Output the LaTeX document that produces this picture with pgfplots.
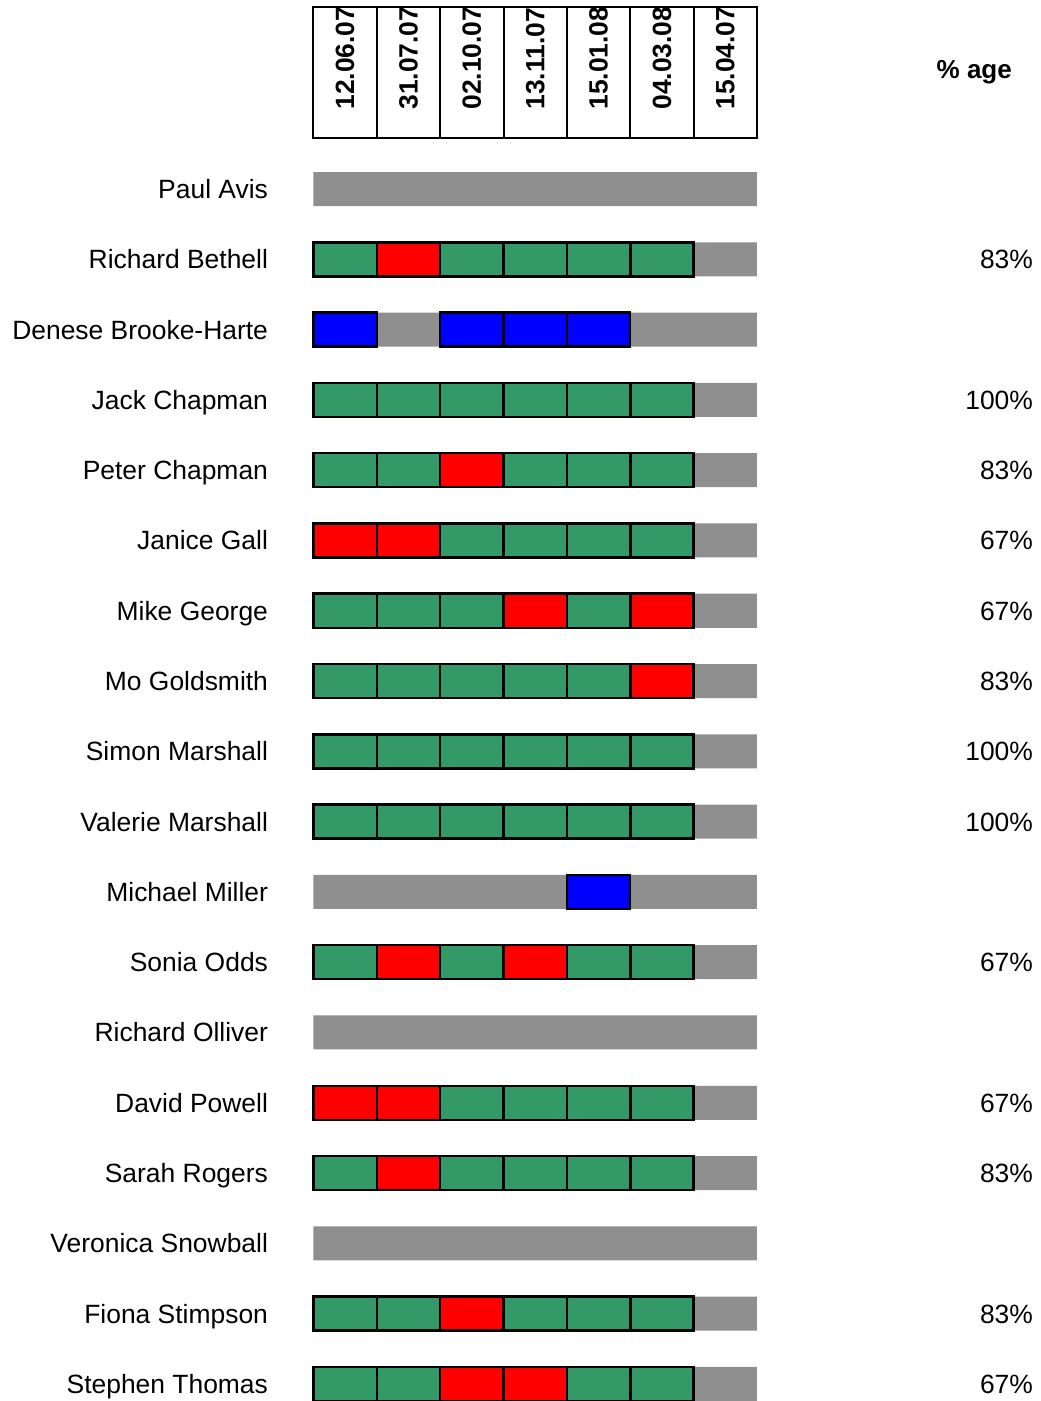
\documentclass[border=0pt]{standalone}
\usepackage{pgfplots}
\pgfplotsset{compat=1.18}
\usepackage{fontspec}
\setmainfont{Liberation Sans}
\definecolor{attgreen}{HTML}{339966}
\definecolor{attred}{HTML}{FF0000}
\definecolor{attblue}{HTML}{0000FF}
\definecolor{barGray}{HTML}{8F8F8F}
\pgfdeclareplotmark{cell}{%
  \pgfpathrectangle{\pgfqpoint{-15.82pt}{-8.5pt}}{\pgfqpoint{31.64pt}{17pt}}%
  \pgfusepathqfillstroke}
\begin{document}
\begin{tikzpicture}
\begin{axis}[
  hide axis, clip=false,
  x=31.643pt, y=35.1pt, y dir=reverse,
  xmin=-4.946, xmax=11.472, ymin=-2.689, ymax=17.243,
  every mark/.append style={line width=1.25pt},
]
% grey background bar for each member
\addplot[xbar, bar width=0.484, bar shift=0pt, fill=barGray, draw=none]
 coordinates {(7,0)(7,1)(7,2)(7,3)(7,4)(7,5)(7,6)(7,7)(7,8)(7,9)(7,10)(7,11)(7,12)(7,13)(7,14)(7,15)(7,16)(7,17)};
% attendance cells: x = column centre, y = row, class g/r/b
\addplot[scatter, only marks, scatter src=explicit symbolic,
  scatter/classes={
    g={mark=cell, fill=attgreen, draw=black, line width=1.25pt},
    r={mark=cell, fill=attred, draw=black, line width=1.25pt},
    b={mark=cell, fill=attblue, draw=black, line width=1.25pt}}]
 table[meta=c] {
x y c
0.5 1 g
1.5 1 r
2.5 1 g
3.5 1 g
4.5 1 g
5.5 1 g
0.5 2 b
2.5 2 b
3.5 2 b
4.5 2 b
0.5 3 g
1.5 3 g
2.5 3 g
3.5 3 g
4.5 3 g
5.5 3 g
0.5 4 g
1.5 4 g
2.5 4 r
3.5 4 g
4.5 4 g
5.5 4 g
0.5 5 r
1.5 5 r
2.5 5 g
3.5 5 g
4.5 5 g
5.5 5 g
0.5 6 g
1.5 6 g
2.5 6 g
3.5 6 r
4.5 6 g
5.5 6 r
0.5 7 g
1.5 7 g
2.5 7 g
3.5 7 g
4.5 7 g
5.5 7 r
0.5 8 g
1.5 8 g
2.5 8 g
3.5 8 g
4.5 8 g
5.5 8 g
0.5 9 g
1.5 9 g
2.5 9 g
3.5 9 g
4.5 9 g
5.5 9 g
4.5 10 b
0.5 11 g
1.5 11 r
2.5 11 g
3.5 11 r
4.5 11 g
5.5 11 g
0.5 13 r
1.5 13 r
2.5 13 g
3.5 13 g
4.5 13 g
5.5 13 g
0.5 14 g
1.5 14 r
2.5 14 g
3.5 14 g
4.5 14 g
5.5 14 g
0.5 16 g
1.5 16 g
2.5 16 r
3.5 16 g
4.5 16 g
5.5 16 g
0.5 17 g
1.5 17 g
2.5 17 r
3.5 17 r
4.5 17 g
5.5 17 g
};
% header box with dates
\draw[line width=1pt] (axis cs:0,-2.593) rectangle (axis cs:7,-0.7265);
\draw[line width=1pt] (axis cs:1,-2.593) -- (axis cs:1,-0.7265);
\draw[line width=1pt] (axis cs:2,-2.593) -- (axis cs:2,-0.7265);
\draw[line width=1pt] (axis cs:3,-2.593) -- (axis cs:3,-0.7265);
\draw[line width=1pt] (axis cs:4,-2.593) -- (axis cs:4,-0.7265);
\draw[line width=1pt] (axis cs:5,-2.593) -- (axis cs:5,-0.7265);
\draw[line width=1pt] (axis cs:6,-2.593) -- (axis cs:6,-0.7265);
\tikzset{datel/.style={rotate=90, anchor=west, inner sep=0pt, font=\fontsize{13.2}{15}\selectfont\bfseries}}
\node[datel] at (axis cs:0.5,-1.125) {12.06.07};
\node[datel] at (axis cs:1.5,-1.125) {31.07.07};
\node[datel] at (axis cs:2.5,-1.125) {02.10.07};
\node[datel] at (axis cs:3.5,-1.125) {13.11.07};
\node[datel] at (axis cs:4.5,-1.125) {15.01.08};
\node[datel] at (axis cs:5.5,-1.125) {04.03.08};
\node[datel] at (axis cs:6.5,-1.125) {15.04.07};
\node[font=\fontsize{13}{15}\selectfont\bfseries, inner sep=0pt] at (axis cs:10.429,-1.667) {\% age};
% names
\tikzset{namel/.style={anchor=base east, inner sep=0pt, yshift=-4.7pt, font=\fontsize{13.2}{15}\selectfont}}
\node[namel] at (axis cs:-0.711,0) {Paul Avis};
\node[namel] at (axis cs:-0.711,1) {Richard Bethell};
\node[namel] at (axis cs:-0.711,2) {Denese Brooke-Harte};
\node[namel] at (axis cs:-0.711,3) {Jack Chapman};
\node[namel] at (axis cs:-0.711,4) {Peter Chapman};
\node[namel] at (axis cs:-0.711,5) {Janice Gall};
\node[namel] at (axis cs:-0.711,6) {Mike George};
\node[namel] at (axis cs:-0.711,7) {Mo Goldsmith};
\node[namel] at (axis cs:-0.711,8) {Simon Marshall};
\node[namel] at (axis cs:-0.711,9) {Valerie Marshall};
\node[namel] at (axis cs:-0.711,10) {Michael Miller};
\node[namel] at (axis cs:-0.711,11) {Sonia Odds};
\node[namel] at (axis cs:-0.711,12) {Richard Olliver};
\node[namel] at (axis cs:-0.711,13) {David Powell};
\node[namel] at (axis cs:-0.711,14) {Sarah Rogers};
\node[namel] at (axis cs:-0.711,15) {Veronica Snowball};
\node[namel] at (axis cs:-0.711,16) {Fiona Stimpson};
\node[namel] at (axis cs:-0.711,17) {Stephen Thomas};
% percentages
\node[namel] at (axis cs:11.361,1) {83\%};
\node[namel] at (axis cs:11.361,3) {100\%};
\node[namel] at (axis cs:11.361,4) {83\%};
\node[namel] at (axis cs:11.361,5) {67\%};
\node[namel] at (axis cs:11.361,6) {67\%};
\node[namel] at (axis cs:11.361,7) {83\%};
\node[namel] at (axis cs:11.361,8) {100\%};
\node[namel] at (axis cs:11.361,9) {100\%};
\node[namel] at (axis cs:11.361,11) {67\%};
\node[namel] at (axis cs:11.361,13) {67\%};
\node[namel] at (axis cs:11.361,14) {83\%};
\node[namel] at (axis cs:11.361,16) {83\%};
\node[namel] at (axis cs:11.361,17) {67\%};
% keep the whole axis area as the picture
\path (rel axis cs:0,0) rectangle (rel axis cs:1,1);
\end{axis}
\end{tikzpicture}
\end{document}
